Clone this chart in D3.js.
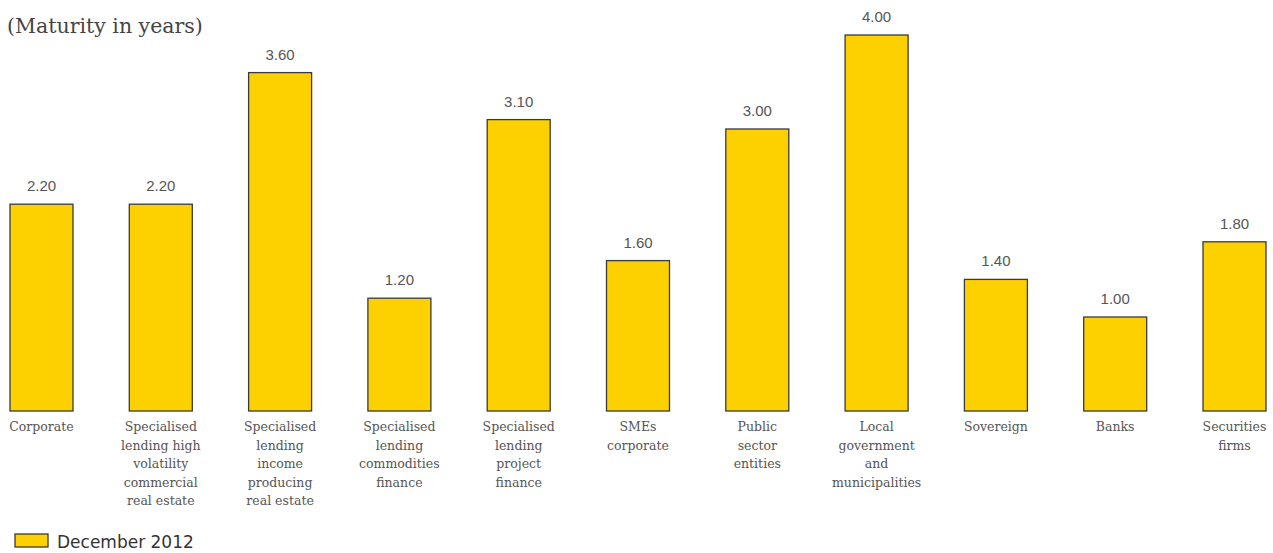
<!DOCTYPE html>
<html>
<head>
<meta charset="utf-8">
<script src="https://cdn.jsdelivr.net/npm/d3@7"></script>
<style>
  body { margin: 0; background: #fff; }
  svg { display: block; }
</style>
</head>
<body>
<div id="chart"></div>
<script>

  var categories = [
    "Corporate",
    "Specialised lending high volatility commercial real estate",
    "Specialised lending income producing real estate",
    "Specialised lending commodities finance",
    "Specialised lending project finance",
    "SMEs corporate",
    "Public sector entities",
    "Local government and municipalities",
    "Sovereign",
    "Banks",
    "Securities firms"
  ];

  // wrapped lines for the category labels under the bars
  var labelLines = [
    ["Corporate"],
    ["Specialised", "lending high", "volatility", "commercial", "real estate"],
    ["Specialised", "lending", "income", "producing", "real estate"],
    ["Specialised", "lending", "commodities", "finance"],
    ["Specialised", "lending", "project", "finance"],
    ["SMEs", "corporate"],
    ["Public", "sector", "entities"],
    ["Local", "government", "and", "municipalities"],
    ["Sovereign"],
    ["Banks"],
    ["Securities", "firms"]
  ];

  var dec2012 = [2.20, 2.20, 3.60, 1.20, 3.10, 1.60, 3.00, 4.00, 1.40, 1.00, 1.80];

  var seriesName = "December 2012";
  var subtitle = "(Maturity in years)";

  var width = 1273, height = 553;
  var barFill = "#fdd000", barStroke = "#3a3a3a";

  var svg = d3.select("#chart")
    .append("svg")
    .attr("width", width)
    .attr("height", height);

  var x = d3.scaleBand()
    .domain(categories)
    .range([10, 1266])
    .paddingInner(0.472)
    .paddingOuter(0);

  var y = d3.scaleLinear()
    .domain([0, 4])
    .range([411, 35]);

  // subtitle
  svg.append("text")
    .attr("x", 7)
    .attr("y", 33)
    .attr("font-family", "DejaVu Serif, serif")
    .attr("font-size", 20.5)
    .attr("fill", "#444")
    .text(subtitle);

  // bars
  svg.append("g")
    .selectAll("rect")
    .data(dec2012)
    .enter()
    .append("rect")
    .attr("x", function(d, i) { return x(categories[i]); })
    .attr("y", function(d) { return y(d); })
    .attr("width", x.bandwidth())
    .attr("height", function(d) { return y(0) - y(d); })
    .attr("fill", barFill)
    .attr("stroke", barStroke)
    .attr("stroke-width", 1.3);

  // value labels
  svg.append("g")
    .selectAll("text")
    .data(dec2012)
    .enter()
    .append("text")
    .attr("x", function(d, i) { return x(categories[i]) + x.bandwidth() / 2; })
    .attr("y", function(d) { return y(d) - 13; })
    .attr("text-anchor", "middle")
    .attr("font-family", "Liberation Sans, Arial, sans-serif")
    .attr("font-size", 15)
    .attr("fill", "#555")
    .text(function(d) { return d.toFixed(2); });

  // category labels
  var catLabels = svg.append("g")
    .selectAll("text")
    .data(labelLines)
    .enter()
    .append("text")
    .attr("x", function(d, i) { return x(categories[i]) + x.bandwidth() / 2; })
    .attr("y", 431)
    .attr("text-anchor", "middle")
    .attr("font-family", "DejaVu Serif, serif")
    .attr("font-size", 12.5)
    .attr("fill", "#555");

  catLabels.selectAll("tspan")
    .data(function(d) { return d; })
    .enter()
    .append("tspan")
    .attr("x", function() { return d3.select(this.parentNode).attr("x"); })
    .attr("dy", function(d, i) { return i === 0 ? 0 : 18.6; })
    .text(function(d) { return d; });

  // legend
  var legend = svg.append("g").attr("transform", "translate(15, 534)");
  legend.append("rect")
    .attr("width", 33)
    .attr("height", 13)
    .attr("fill", barFill)
    .attr("stroke", barStroke)
    .attr("stroke-width", 1.3);
  legend.append("text")
    .attr("x", 42)
    .attr("y", 14)
    .attr("font-family", "DejaVu Sans, sans-serif")
    .attr("font-size", 17)
    .attr("fill", "#333")
    .text(seriesName);

</script>
</body>
</html>
